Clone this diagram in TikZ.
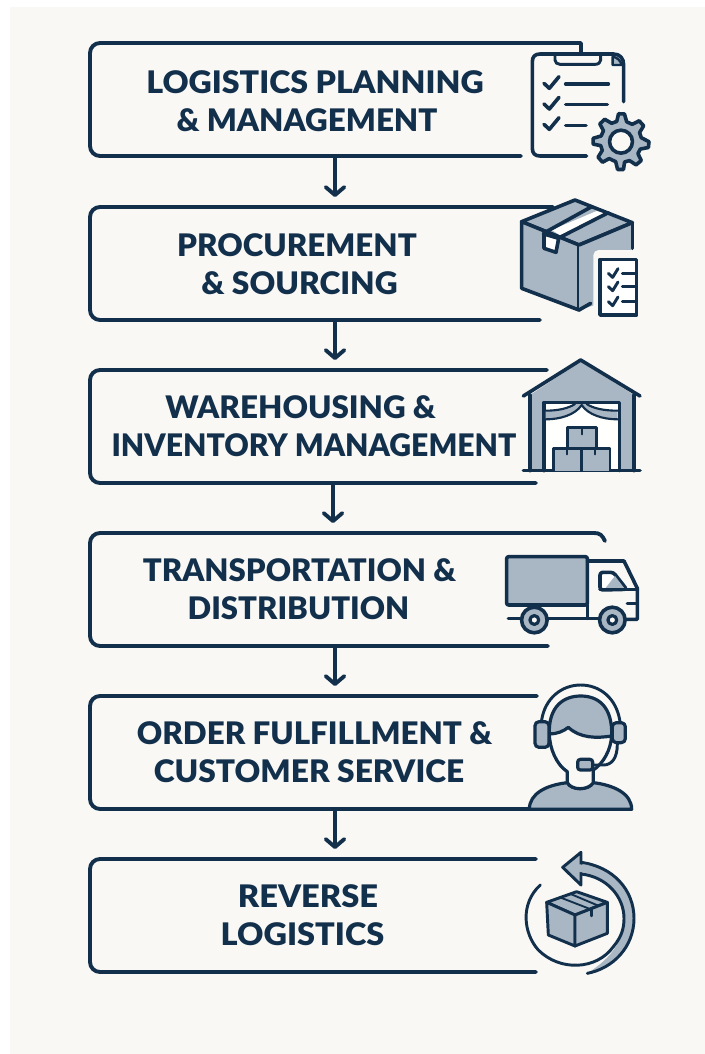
\documentclass[tikz,border=0pt]{standalone}
\usepackage{fontspec}
\usepackage{graphicx}
\setmainfont{Lato}[BoldFont={Lato Black}]
\usetikzlibrary{arrows.meta}
\definecolor{ink}{HTML}{12304C}
\definecolor{slate}{HTML}{A9B6C3}
\definecolor{paper}{HTML}{FAF8F5}
\newcommand{\sx}[2]{\scalebox{#1}[1]{#2}}
\tikzset{
  boxline/.style={draw=ink,line width=2.9pt,line cap=round,line join=round},
  frame/.style={minimum width=367.5pt,minimum height=84.75pt,inner sep=0pt,outer sep=0pt},
  flow/.style={draw=ink,line width=2.9pt,line cap=round,shorten >=7.5pt,-{Straight Barb[length=6pt,width=14pt,line width=2.9pt,round]}},
  label/.style={font=\fontsize{23.3pt}{28.5pt}\selectfont\bfseries,text=ink,align=center,inner sep=0pt},
  ic/.style={x=0.25pt,y=-0.25pt,line join=round,line cap=round},
  ln/.style={draw=ink,line width=2.7pt},
  ln2/.style={draw=ink,line width=2.4pt},
  th/.style={draw=ink,line width=2.2pt},
  gr/.style={fill=slate},
}
\begin{document}
\begin{tikzpicture}[x=0.75pt,y=-0.75pt]
\useasboundingbox (0,0) rectangle (705,1054);
\fill[white] (0,0) rectangle (705,1054);
\fill[paper] (10,7) rectangle (705,1054);
% frames (anchors for connectors)
\node[frame] (box1) at (335,99.5) {};
\node[frame] (box2) at (335,263.5) {};
\node[frame] (box3) at (335,426.5) {};
\node[frame] (box4) at (335,589.5) {};
\node[frame] (box5) at (335,752.5) {};
\node[frame] (box6) at (335,915.5) {};
% open outlines
\draw[boxline] (581,52) -- (581,43) -- (100,43) arc[start angle=90,end angle=180,radius=7.5pt] -- (90,146) arc[start angle=180,end angle=270,radius=7.5pt] -- (521,156);
\draw[boxline] (553,207) -- (100,207) arc[start angle=90,end angle=180,radius=7.5pt] -- (90,310) arc[start angle=180,end angle=270,radius=7.5pt] -- (540,320);
\draw[boxline] (547,370) -- (100,370) arc[start angle=90,end angle=180,radius=7.5pt] -- (90,473) arc[start angle=180,end angle=270,radius=7.5pt] -- (536,483);
\draw[boxline] (605,541) .. controls (602,535) and (600,533) .. (594,533) -- (100,533) arc[start angle=90,end angle=180,radius=7.5pt] -- (90,636) arc[start angle=180,end angle=270,radius=7.5pt] -- (548,646);
\draw[boxline] (537,696) -- (100,696) arc[start angle=90,end angle=180,radius=7.5pt] -- (90,799) arc[start angle=180,end angle=270,radius=7.5pt] -- (530,809);
\draw[boxline] (536,859) -- (100,859) arc[start angle=90,end angle=180,radius=7.5pt] -- (90,962) arc[start angle=180,end angle=270,radius=7.5pt] -- (536,972);
% connectors
\draw[flow] (box1.south) -- (box2.north);
\draw[flow] (box2.south) -- (box3.north);
\draw[flow] ([xshift=-1.5pt]box3.south) -- ([xshift=-1.5pt]box4.north);
\draw[flow] (box4.south) -- (box5.north);
\draw[flow] (box5.south) -- (box6.north);
% labels
\node[label] (t1) at (315,101) {\sx{1.034}{LOGISTICS PLANNING}\\\kern-12pt\sx{1.01}{\& MANAGEMENT}};
\node[label] (t2) at (297,264) {\sx{1.008}{PROCUREMENT}\\\kern3.8pt\sx{1.02}{\& SOURCING}};
\node[label] (t3) at (314,426) {\kern-20pt\sx{1.01}{WAREHOUSING \&}\\\sx{0.971}{INVENTORY MANAGEMENT}};
\node[label] (t4) at (299.5,589) {\sx{1.003}{TRANSPORTATION \&}\\\kern-1.5pt DISTRIBUTION};
\node[label] (t5) at (314.5,752) {\sx{1.008}{ORDER FULFILLMENT \&}\\\kern-8.2pt\sx{1.02}{CUSTOMER SERVICE}};
\node[label] (t6) at (302.5,915) {\kern8.2pt\sx{1.05}{REVERSE}\\\sx{1.045}{LOGISTICS}};
% ---- icon 1: clipboard and gear
\begin{scope}[shift={(480,30)},ic]
\draw[ln] (320,378) -- (180,378) .. controls (165,378) and (157,370) .. (157,355) -- (157,95) .. controls (157,80) and (165,72) .. (180,72) -- (400,72) .. controls (420,72) and (431,85) .. (431,105) -- (431,215);
\draw[ln,gr,line width=1.8pt] (398,80) -- (398,105) -- (425,105) .. controls (422,92) and (412,82) .. (398,80) -- cycle;
\draw[ln,line width=2.2pt] (225,75) -- (225,90) .. controls (225,98) and (232,103) .. (240,103) -- (345,103) .. controls (355,103) and (362,98) .. (362,90) -- (362,75);
\foreach \y in {160,222,283} \draw[ln] (192,\y) -- (208,\y+15) -- (237,\y-20);
\draw[ln] (257,162) -- (385,162);
\draw[ln] (257,223) -- (382,223);
\draw[ln] (257,286) -- (318,286);
\draw[ln,gr] (423,335)
 +(0:84) -- +(12:84) -- +(21:62) -- +(35:62) -- +(43:83) -- +(57:83) -- +(66:62) -- +(80:62) -- +(85:84) -- +(97:84) -- +(105:62) -- +(125:62) -- +(132:83) -- +(146:83) -- +(155:62) -- +(169:62) -- +(175:84) -- +(187:84) -- +(196:62) -- +(212:62) -- +(220:83) -- +(234:83) -- +(243:62) -- +(258:62) -- +(265:84) -- +(277:84) -- +(286:62) -- +(303:62) -- +(311:83) -- +(325:83) -- +(334:62) -- +(349:62) -- cycle;
\draw[ln,fill=paper] (423,335) circle[radius=8.6pt];
\end{scope}
% ---- icon 2: parcel and list
\begin{scope}[shift={(480,30)},ic]
\fill[paper] (125,575) -- (285,510) -- (457,578) -- (457,840) -- (125,840) -- cycle;
\draw[ln,gr] (125,575) -- (285,510) -- (457,578) -- (297,645) -- cycle;
\draw[ln,gr] (125,575) -- (297,645) -- (297,840) -- (125,775) -- cycle;
\draw[gr,draw=none] (297,645) -- (457,578) -- (457,790) -- (297,840) -- cycle;
\draw[ln] (297,645) -- (457,578);
\fill[paper,rounded corners=4pt] (340,660) rectangle (480,870);
\draw[ln] (457,578) -- (457,655);
\draw[ln] (297,840) -- (332,820);
\fill[white!95!paper] (215,600) -- (350,543) -- (380,553) -- (240,615) -- cycle;
\draw[ln] (190,610) -- (335,530);
\draw[ln] (240,622) -- (385,548);
\draw[ln,fill=white!95!paper] (192,612) -- (192,655) -- (228,667) -- (236,625) -- cycle;
\draw[ln,fill=white!95!paper] (360,688) rectangle (470,855);
\foreach \y in {730,770,815} { \draw[ln,line width=2.2pt] (385,\y) -- (398,\y+12) -- (414,\y-14); \draw[ln,line width=2.2pt] (427,\y) -- (468,\y); }
\end{scope}
% ---- icon 3: warehouse
\begin{scope}[shift={(480,340)},ic]
\fill[slate] (150,392) -- (150,165) -- (302,65) -- (462,165) -- (462,392) -- cycle;
\fill[white!95!paper] (190,187) rectangle (418,392);
\draw[ln] (130,168) -- (302,60) -- (480,168);
\draw[ln] (150,165) -- (150,392);
\draw[ln] (462,165) -- (462,392);
\draw[ln] (130,392) -- (480,392);
\draw[ln] (192,392) -- (192,187) -- (418,187) -- (418,392);
\fill[slate] (197,212) .. controls (235,212) and (265,205) .. (285,192) -- (320,192) .. controls (340,205) and (370,212) .. (413,212) -- (413,238) .. controls (370,238) and (325,225) .. (305,200) .. controls (285,225) and (240,238) .. (197,238) -- cycle;
\draw[ink,line width=1.6pt] (197,212) .. controls (235,212) and (265,205) .. (285,192);
\draw[ink,line width=1.6pt] (413,212) .. controls (370,212) and (340,205) .. (320,192);
\draw[ink,line width=1.6pt] (197,238) .. controls (240,238) and (285,225) .. (305,195) .. controls (325,225) and (370,238) .. (413,238);
\draw[th,gr] (262,325) -- (262,263) -- (350,263) -- (350,325);
\draw[th,gr] (220,392) -- (220,325) -- (390,325) -- (390,392);
\draw[th] (305,325) -- (305,392);
\draw[th,line width=1.6pt] (306,265) -- (306,283);
\draw[th,line width=1.6pt] (262,325) -- (262,343);
\draw[th,line width=1.6pt] (345,325) -- (345,343);
\end{scope}
% ---- icon 4: truck
\begin{scope}[shift={(480,340)},ic]
\draw[ln,gr,rounded corners=1.5pt] (80,795) -- (80,650) -- (322,650) -- (322,795) -- cycle;
\draw[ln] (322,663) -- (432,663) -- (472,745) -- (472,838) -- (440,838);
\draw[ln] (322,795) -- (322,835);
\draw[ln] (85,835) -- (120,835);
\draw[ln] (205,835) -- (355,835);
\draw[ln] (442,790) -- (470,790);
\draw[ln,fill=white!95!paper,rounded corners=2pt] (360,697) -- (400,697) -- (440,748) -- (360,750) -- cycle;
\fill[slate] (405,708) -- (434,746) -- (375,746) -- cycle;
\draw[ln] (360,748) -- (472,748);
\foreach \cx in {163,397} {
  \draw[ln,gr] (\cx,840) circle[radius=9.6pt];
  \draw[ln,fill=paper,line width=2.4pt] (\cx,840) circle[radius=3.3pt];
}
\end{scope}
% ---- icon 5: agent
\begin{scope}[shift={(480,670)},ic]
\draw[ln2,gr] (148,418) .. controls (148,370) and (200,345) .. (262,338) .. controls (275,362) and (325,362) .. (340,338) .. controls (400,345) and (455,370) .. (455,418) -- cycle;
\fill[paper] (208,190) .. controls (208,235) and (230,285) .. (262,305) -- (262,338) .. controls (275,362) and (325,362) .. (340,338) -- (340,300) .. controls (370,280) and (393,240) .. (395,195) -- cycle;
\draw[ln2] (208,190) .. controls (208,235) and (230,285) .. (262,305) -- (262,338) .. controls (275,362) and (325,362) .. (340,338) -- (340,300) .. controls (370,280) and (393,240) .. (395,195);
\draw[ln2,gr] (208,192) .. controls (205,110) and (250,78) .. (302,78) .. controls (355,78) and (398,110) .. (395,198) .. controls (350,205) and (300,205) .. (265,172) .. controls (250,184) and (230,192) .. (208,192) -- cycle;
\draw[th] (185,150) .. controls (195,85) and (245,45) .. (302,45) .. controls (360,45) and (410,85) .. (420,155);
\draw[ln2,gr,rounded corners=3pt] (165,155) rectangle (207,232);
\draw[ln2,gr,rounded corners=3pt] (397,158) rectangle (436,218);
\draw[th] (412,222) .. controls (412,265) and (395,285) .. (370,285) -- (338,285);
\draw[ln2,fill=slate,rounded corners=2pt] (293,268) rectangle (338,300);
\end{scope}
% ---- icon 6: returns
\begin{scope}[shift={(480,670)},ic]
\draw[draw=none,gr] (300,578) .. controls (400,590) and (465,660) .. (465,745) .. controls (465,830) and (400,895) .. (322,910) .. controls (400,860) and (430,810) .. (430,745) .. controls (430,680) and (380,620) .. (305,612) -- cycle;
\draw[th] (322,910) .. controls (400,895) and (462,830) .. (462,745) .. controls (462,660) and (400,590) .. (303,577);
\draw[th] (181,645) .. controls (120,700) and (130,790) .. (175,840) .. controls (240,905) and (350,900) .. (400,830) .. controls (425,800) and (432,775) .. (432,745) .. controls (432,680) and (380,620) .. (303,612);
\draw[th,gr] (248,592) -- (303,547) -- (303,645) -- cycle;
\draw[draw=none,gr] (296,583) -- (325,585) -- (325,608) -- (296,606) -- cycle;
\draw[th,gr] (200,697) -- (290,665) -- (382,697) -- (285,735) -- cycle;
\draw[th,gr] (200,697) -- (285,735) -- (285,828) -- (205,795) -- cycle;
\draw[th,gr] (285,735) -- (382,697) -- (382,790) -- (285,828) -- cycle;
\draw[th,line width=1.4pt] (240,682) -- (325,715);
\draw[th,line width=1.4pt] (272,672) -- (355,707);
\draw[th,line width=1.8pt] (335,718) -- (335,738);
\end{scope}
\end{tikzpicture}
\end{document}
